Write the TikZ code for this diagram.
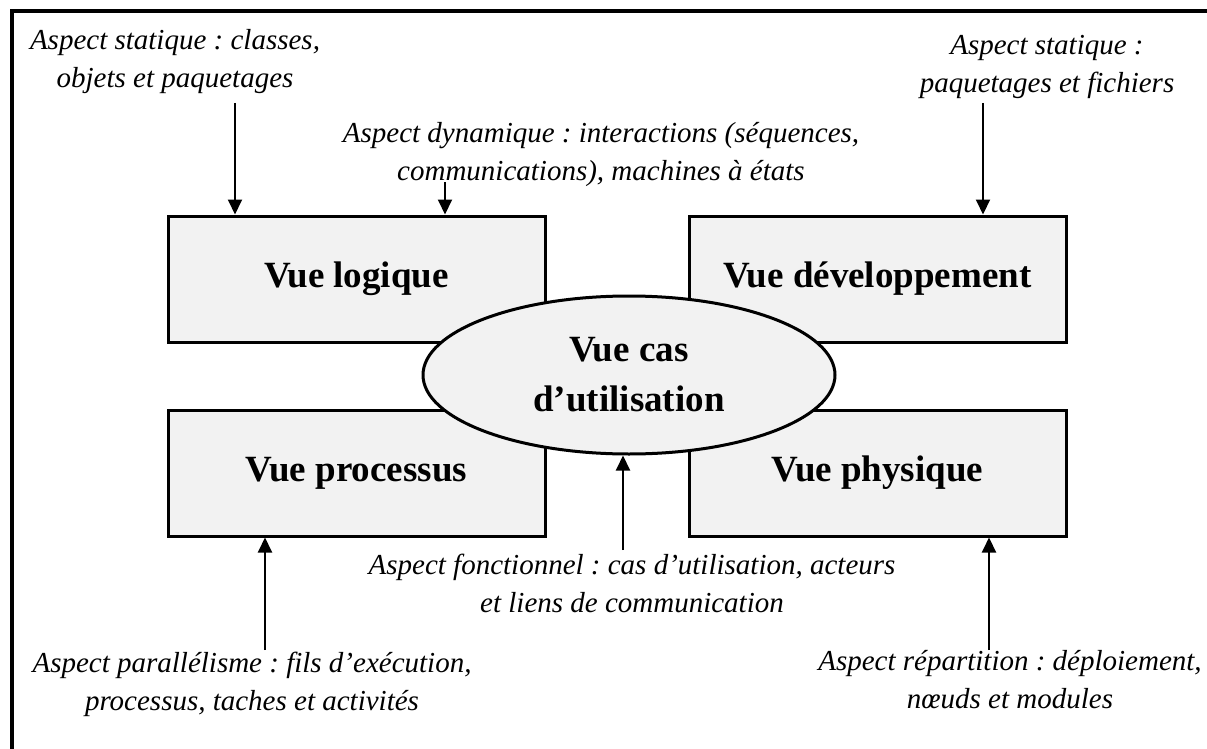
\documentclass[tikz,border=0pt]{standalone}
\usepackage{fontspec}
\setmainfont{Liberation Serif}
\usetikzlibrary{arrows.meta,shapes.geometric}
\definecolor{boxfill}{HTML}{F2F2F2}
\frenchspacing
\begin{document}
\begin{tikzpicture}[x=1pt,y=-1pt,
  view/.style={draw,line width=3pt,fill=boxfill,minimum width=377pt,minimum height=126pt,inner sep=0pt,font=\fontsize{37}{44}\selectfont\bfseries},
  uc/.style={ellipse,draw,line width=3pt,fill=boxfill,minimum width=412pt,minimum height=158pt,inner sep=0pt,align=center,font=\fontsize{37}{50}\selectfont\bfseries},
  aspect/.style={align=center,inner sep=0pt,anchor=base,font=\fontsize{29}{38}\selectfont\itshape},
  arr/.style={line width=2pt,-{Triangle[width=14pt,length=15pt]}},
  frameline/.style={line width=4pt}]
\useasboundingbox (0,0) rectangle (1207,749);
\draw[frameline] (12,752) -- (12,11) -- (1210,11);

\node[view] (lv) at (356.5,279) {Vue logique};
\node[view] (ld) at (877.5,279) {Vue développement};
\node[view] (lp) at (356.5,473) {Vue processus};
\node[view] (lph) at (877.5,473) {Vue physique};
\node[uc] (uc) at (629,375) {Vue cas\\d’utilisation};

\node[aspect] (t1) at (175,88) {Aspect statique : classes,\\objets et paquetages};
\node[aspect] (t2) at (601,180) {Aspect dynamique : interactions (séquences,\\communications), machines à états};
\node[aspect] (t3) at (1047,93) {Aspect statique :\\paquetages et fichiers};
\node[aspect] (t4) at (632,612) {Aspect fonctionnel : cas d’utilisation, acteurs\\et liens de communication};
\node[aspect] (t5) at (252,710) {Aspect parallélisme : fils d’exécution,\\processus, taches et activités};
\node[aspect] (t6) at (1010,708) {Aspect répartition : déploiement,\\nœuds et modules};

\coordinate (s1) at (235,103);
\coordinate (s2) at (445,182);
\coordinate (s3) at (983,103);
\coordinate (s4) at (623,550);
\coordinate (s5) at (265,650);
\coordinate (s6) at (989,650);
\draw[arr] (s1) -- (s1 |- lv.north);
\draw[arr] (s2) -- (s2 |- lv.north);
\draw[arr] (s3) -- (s3 |- ld.north);
\draw[arr] (s4) -- (s4 |- uc.south);
\draw[arr] (s5) -- (s5 |- lp.south);
\draw[arr] (s6) -- (s6 |- lph.south);
\end{tikzpicture}
\end{document}
